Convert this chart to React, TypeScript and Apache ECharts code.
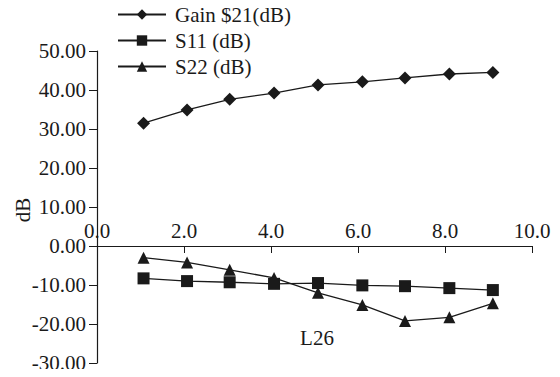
import React, { useEffect, useRef } from "react";
import * as echarts from "echarts";

const xValues = [1.07, 2.07, 3.05, 4.07, 5.08, 6.1, 7.08, 8.1, 9.1];
const gainS21 = [31.5, 34.9, 37.6, 39.2, 41.3, 42.1, 43.1, 44.1, 44.5];
const s11 = [-8.3, -9.0, -9.3, -9.7, -9.5, -10.1, -10.3, -10.8, -11.3];
const s22 = [-3.0, -4.2, -6.1, -8.2, -12.0, -15.1, -19.2, -18.3, -14.7];
const seriesNames = ["Gain $21(dB)", "S11 (dB)", "S22 (dB)"];

const FONT = "Liberation Serif";
const INK = "#1a1a1a";
const FS = 21;

export default function App() {
  const ref = useRef<HTMLDivElement>(null);
  useEffect(() => {
    if (!ref.current) return;
    const chart = echarts.init(ref.current, null, { renderer: "svg" });
    const mk = (ys: number[]) => xValues.map((x, i) => [x, ys[i]]);
    const lineStyle = { color: INK, width: 1.3 };
    const itemStyle = { color: INK };
    const labelBase = { fontFamily: FONT, fontSize: FS, color: INK };
    const yCommon = {
      type: "value",
      interval: 10,
      axisLine: { show: true, lineStyle: { color: INK, width: 1.2 } },
      axisTick: { show: true, length: 8, lineStyle: { color: INK } },
      splitLine: { show: false },
    };
    chart.setOption({
      animation: false,
      backgroundColor: "#fff",
      textStyle: { fontFamily: FONT },
      legend: {
        orient: "vertical",
        left: 112,
        top: -1,
        itemWidth: 48,
        itemHeight: 13,
        itemGap: 5,
        textStyle: { ...labelBase, padding: [0, 0, 0, 4] },
        data: seriesNames,
      },
      grid: [
        { left: 97, right: 28, top: 51, height: 195, containLabel: false },
        { left: 97, right: 28, top: 246, height: 117, containLabel: false },
      ],
      xAxis: [
        {
          gridIndex: 0,
          type: "value",
          min: 0,
          max: 10,
          interval: 2,
          position: "bottom",
          axisLine: { onZero: false, lineStyle: { color: INK, width: 1.2 } },
          axisTick: { inside: false, length: 7, lineStyle: { color: INK } },
          axisLabel: {
            ...labelBase,
            inside: true,
            margin: 5,
            formatter: (v: number) => v.toFixed(1),
          },
          splitLine: { show: false },
        },
        {
          gridIndex: 1,
          type: "value",
          min: 0,
          max: 10,
          interval: 2,
          show: false,
        },
      ],
      yAxis: [
        {
          ...yCommon,
          gridIndex: 0,
          min: 0,
          max: 50,
          axisLabel: {
            ...labelBase,
            margin: 11,
            formatter: (v: number) => v.toFixed(2),
          },
        },
        {
          ...yCommon,
          gridIndex: 1,
          min: -30,
          max: 0,
          axisLabel: {
            ...labelBase,
            margin: 11,
            formatter: (v: number) => (v === 0 ? "" : v.toFixed(2)),
          },
        },
      ],
      graphic: [
        {
          type: "text",
          x: 23,
          y: 210,
          rotation: Math.PI / 2,
          style: {
            text: "dB",
            font: `${FS}px ${FONT}`,
            fill: INK,
            align: "center",
            verticalAlign: "middle",
          },
        },
        {
          type: "text",
          x: 317,
          y: 338,
          style: {
            text: "L26",
            font: `${FS}px ${FONT}`,
            fill: INK,
            align: "center",
            verticalAlign: "middle",
          },
        },
      ],
      series: [
        {
          name: seriesNames[0],
          type: "line",
          xAxisIndex: 0,
          yAxisIndex: 0,
          data: mk(gainS21),
          symbol: "diamond",
          symbolSize: 13,
          lineStyle,
          itemStyle,
        },
        {
          name: seriesNames[1],
          type: "line",
          xAxisIndex: 1,
          yAxisIndex: 1,
          data: mk(s11),
          symbol: "rect",
          symbolSize: 12,
          lineStyle,
          itemStyle,
        },
        {
          name: seriesNames[2],
          type: "line",
          xAxisIndex: 1,
          yAxisIndex: 1,
          data: mk(s22),
          symbol: "triangle",
          symbolSize: 12,
          lineStyle,
          itemStyle,
        },
      ],
    });
    return () => chart.dispose();
  }, []);
  return <div ref={ref} style={{ width: 560, height: 377, margin: -8 }} />;
}
